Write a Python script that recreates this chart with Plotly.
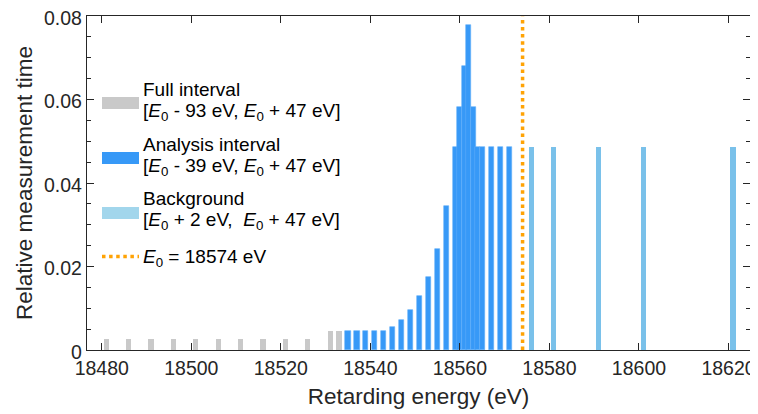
import plotly.graph_objects as go

# ---- data ----
E0 = 18574
full_x = [18481, 18486, 18491, 18496, 18501, 18506, 18511, 18516, 18521, 18526, 18531, 18533]
full_y = [0.0026, 0.0026, 0.0026, 0.0026, 0.0026, 0.0026, 0.0026, 0.0026, 0.0026, 0.0026, 0.0046, 0.0046]
analysis_x = [18535, 18537, 18539, 18541, 18543, 18545, 18547, 18549, 18551, 18553, 18555, 18557,
              18559, 18560, 18561, 18562, 18563, 18564, 18565, 18567, 18569, 18571]
analysis_y = [0.0046, 0.0046, 0.0046, 0.0046, 0.0046, 0.0055, 0.0072, 0.0095, 0.0129, 0.0175, 0.0243, 0.0344,
              0.0486, 0.0582, 0.0680, 0.0778, 0.0582, 0.0486, 0.0486, 0.0486, 0.0486, 0.0486]
background_x = [18576, 18581, 18591, 18601, 18621]
background_y = [0.0486, 0.0486, 0.0486, 0.0486, 0.0486]
x_ticks = [18480, 18500, 18520, 18540, 18560, 18580, 18600, 18620]
x_ticklabels = ["18480", "18500", "18520", "18540", "18560", "18580", "18600", "18620"]
y_ticks = [0, 0.02, 0.04, 0.06, 0.08]
y_ticklabels = ["0", "0.02", "0.04", "0.06", "0.08"]
legend_line1 = ["Full interval", "Analysis interval", "Background"]
legend_line2 = [
    "[<i>E</i><sub>0</sub> - 93 eV, <i>E</i><sub>0</sub> + 47 eV]",
    "[<i>E</i><sub>0</sub> - 39 eV, <i>E</i><sub>0</sub> + 47 eV]",
    "[<i>E</i><sub>0</sub> + 2 eV,  <i>E</i><sub>0</sub> + 47 eV]",
]
legend_e0 = "<i>E</i><sub>0</sub> = 18574 eV"

# ---- styles ----
GRAY = "#C9C9C9"
BLUE = "#3799F7"
BLUE_EDGE = "#5FAEF9"
LBLUE = "#7AC1EA"
LBLUE_LEG = "#A2D6EC"
ORANGE = "#FFA305"
AX = "#262626"
FONT = "Liberation Sans, Arial, Helvetica, sans-serif"
BW = 1.15
DOT = "3.5px,3.6px"

# the page body has an 8 px margin, so the figure is drawn 8 px in from the top-left corner
OFF = 8
W, H = 758 - OFF, 414 - OFF
# plot area on screen: x 87..750, y 16..350
SL, SR, ST, SB = 87, 750, 16, 350
ML, MR, MT, MB = SL - OFF, (W + OFF) - SR, ST - OFF, (H + OFF) - SB
PW, PH = SR - SL, SB - ST


def px(x):
    return (x - SL) / PW


def py(y):
    return (SB - y) / PH


fig = go.Figure()
fig.add_trace(go.Bar(x=full_x, y=full_y, width=BW, marker=dict(color=GRAY, line=dict(width=0)), showlegend=False))
fig.add_trace(go.Bar(x=analysis_x, y=analysis_y, width=BW,
                     marker=dict(color=BLUE, line=dict(width=0.6, color=BLUE_EDGE)), showlegend=False))
fig.add_trace(go.Bar(x=background_x, y=background_y, width=BW, marker=dict(color=LBLUE, line=dict(width=0)), showlegend=False))
fig.add_trace(go.Scatter(x=[E0, E0], y=[0, 0.08], mode="lines",
                         line=dict(color=ORANGE, width=3.5, dash=DOT), showlegend=False))

# manual legend (patch + text)
shapes = []
annotations = []
TX = 141
LF = dict(family=FONT, size=19, color="#000000")
patch_cols = [GRAY, BLUE, LBLUE_LEG]
patch_centers = [103, 158, 213]
line1_y = [89, 144, 198]
line2_y = [112, 167, 221]
for c, yc, t1, y1, t2, y2 in zip(patch_cols, patch_centers, legend_line1, line1_y, legend_line2, line2_y):
    shapes.append(dict(type="rect", xref="paper", yref="paper", x0=px(102), x1=px(139),
                       y0=py(yc + 6), y1=py(yc - 6), fillcolor=c, line=dict(width=0)))
    annotations.append(dict(xref="paper", yref="paper", x=px(TX), y=py(y1), xanchor="left",
                            yanchor="middle", text=t1, showarrow=False, align="left", font=LF))
    annotations.append(dict(xref="paper", yref="paper", x=px(TX), y=py(y2), xanchor="left",
                            yanchor="middle", text=t2, showarrow=False, align="left", font=LF))
shapes.append(dict(type="line", xref="paper", yref="paper", x0=px(102), x1=px(139),
                   y0=py(256.5), y1=py(256.5), line=dict(color=ORANGE, width=3.5, dash=DOT)))
annotations.append(dict(xref="paper", yref="paper", x=px(TX), y=py(258), xanchor="left",
                        yanchor="middle", text=legend_e0, showarrow=False, align="left", font=LF))

fig.update_layout(
    template="none",
    width=W, height=H,
    margin=dict(l=ML, r=MR, t=MT, b=MB, autoexpand=False),
    paper_bgcolor="white", plot_bgcolor="white",
    barmode="overlay", bargap=0,
    font=dict(family=FONT, size=20, color=AX),
    shapes=shapes, annotations=annotations,
    xaxis=dict(range=[18476.7, 18624.8], tickvals=x_ticks, ticktext=x_ticklabels, ticks="inside", ticklen=7,
               tickcolor=AX, tickwidth=1.3, showline=True, linecolor=AX, linewidth=1.3, mirror="ticks",
               showgrid=False, zeroline=False, automargin=False, ticklabeloverflow="allow",
               tickfont=dict(size=19.5, color=AX),
               title=dict(text="Retarding energy (eV)", font=dict(size=22.5, color=AX), standoff=10)),
    yaxis=dict(range=[0, 0.08], tickvals=y_ticks, ticktext=y_ticklabels,
               ticks="inside", ticklen=7, tickcolor=AX, tickwidth=1.3,
               showline=True, linecolor=AX, linewidth=1.3, mirror="ticks",
               showgrid=False, zeroline=False, automargin=False, ticklabeloverflow="allow",
               ticklabelshift=2, tickfont=dict(size=19.5, color=AX),
               minor=dict(dtick=0.005, ticks="inside", ticklen=4, tickcolor=AX, tickwidth=1.3),
               title=dict(text="Relative measurement time", font=dict(size=22.5, color=AX), standoff=5)),
)

fig.write_html("out.html")
